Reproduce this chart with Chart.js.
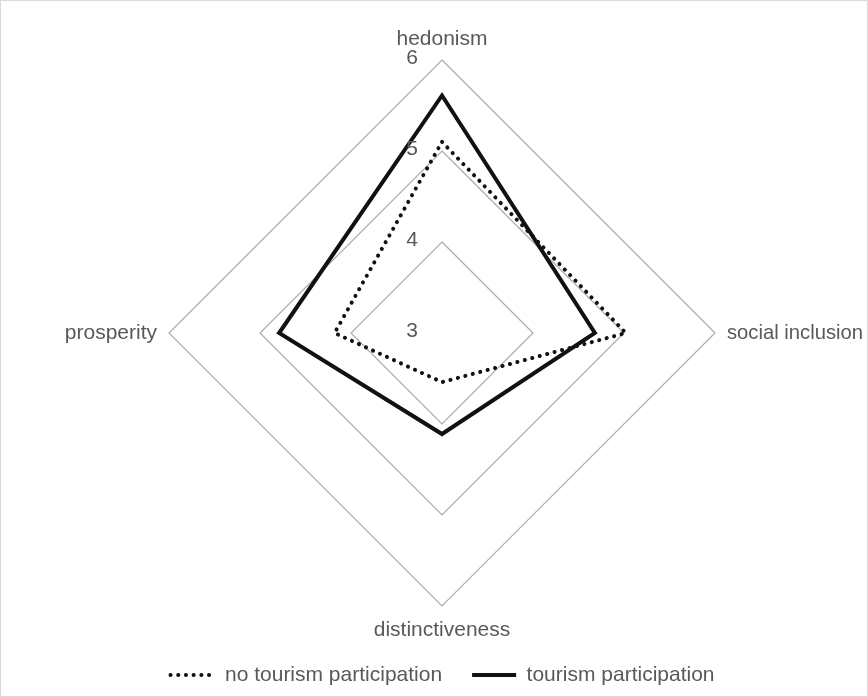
<!DOCTYPE html>
<html>
<head>
<meta charset="utf-8">
<script src="https://cdn.jsdelivr.net/npm/chart.js@4.4.0/dist/chart.umd.min.js"></script>
<style>
  body { margin: 0; background: #fff; }
  #wrap { width: 868px; height: 697px; box-sizing: border-box; border: 1px solid #d9d9d9; }
</style>
</head>
<body>
<div id="wrap"><canvas id="myChart" width="866" height="695"></canvas></div>
<script>
const axes = ['hedonism', 'social inclusion', 'distinctiveness', 'prosperity'];
const noTourism = [5.10, 5.02, 3.54, 4.18];
const tourism = [5.61, 4.68, 4.11, 4.79];
const tickValues = [3, 4, 5, 6];

const textColor = '#595959';
const lineColor = '#111111';
const fontFamily = '"Liberation Sans", Arial, sans-serif';

//draws the tick numbers left of the top axis and the category names outside the outer ring
const axisText = {
    id: 'axisText',
    afterDatasetsDraw(chart) {
        const s = chart.scales.r;
        const ctx = chart.ctx;
        ctx.save();
        ctx.fillStyle = textColor;
        ctx.font = '21px ' + fontFamily;
        ctx.textAlign = 'center';
        ctx.textBaseline = 'middle';
        s.ticks.forEach(t => {
            const d = s.getDistanceFromCenterForValue(t.value);
            ctx.fillText(t.label, s.xCenter - 30, s.yCenter - d - 1.5);
        });
        const outer = s.getDistanceFromCenterForValue(s.max);
        axes.forEach((name, i) => {
            const p = s.getPointPosition(i, outer + 12);
            const dx = p.x - s.xCenter;
            const dy = p.y - s.yCenter;
            let y = p.y;
            let maxW;
            if (Math.abs(dx) < 1) {
                ctx.textAlign = 'center';
                ctx.textBaseline = 'alphabetic';
                y = dy < 0 ? s.yCenter - outer - 15 : s.yCenter + outer + 30;
            } else {
                ctx.textAlign = dx > 0 ? 'left' : 'right';
                ctx.textBaseline = 'middle';
                //keep the right label off the frame
                if (dx > 0) maxW = chart.width - p.x - 4;
            }
            if (maxW) ctx.fillText(name, p.x, y, maxW);
            else ctx.fillText(name, p.x, y);
        });
        ctx.restore();
    }
};

new Chart('myChart', {
    type: 'radar',
    data: {
        labels: axes,
        datasets: [{
            label: 'no tourism participation',
            data: noTourism,
            borderColor: lineColor,
            backgroundColor: lineColor,
            borderWidth: 4,
            borderDash: [0.1, 7.6],
            borderCapStyle: 'round',
            pointRadius: 0,
            pointStyle: 'line',
            fill: false
        }, {
            label: 'tourism participation',
            data: tourism,
            borderColor: lineColor,
            backgroundColor: lineColor,
            borderWidth: 4,
            borderJoinStyle: 'miter',
            pointRadius: 0,
            pointStyle: 'line',
            fill: false
        }]
    },
    options: {
        responsive: false,
        animation: false,
        layout: { padding: { left: 17, right: 0, top: 59, bottom: 0.5 } },
        scales: {
            r: {
                min: 3,
                max: 6,
                ticks: { stepSize: 1, display: false, callback: v => tickValues.includes(v) ? String(v) : '' },
                grid: { color: '#ababab', lineWidth: 1.2, circular: false },
                angleLines: { display: false },
                pointLabels: { display: false }
            }
        },
        plugins: {
            tooltip: { enabled: false },
            legend: {
                position: 'bottom',
                title: { display: true, text: '', padding: { top: 26.5, bottom: 0 }, font: { size: 1 } },
                labels: {
                    usePointStyle: true,
                    pointStyleWidth: 44,
                    padding: 30,
                    color: textColor,
                    font: { size: 21, family: fontFamily },
                    //the point style has no dash, so copy the line look from the dataset
                    generateLabels(chart) {
                        const items = Chart.defaults.plugins.legend.labels.generateLabels(chart);
                        items.forEach(item => {
                            const ds = chart.data.datasets[item.datasetIndex];
                            item.lineDash = ds.borderDash || [];
                            item.lineCap = ds.borderCapStyle || 'butt';
                            item.lineWidth = ds.borderWidth;
                            item.strokeStyle = ds.borderColor;
                        });
                        return items;
                    }
                }
            }
        }
    },
    plugins: [axisText]
});
</script>
</body>
</html>
